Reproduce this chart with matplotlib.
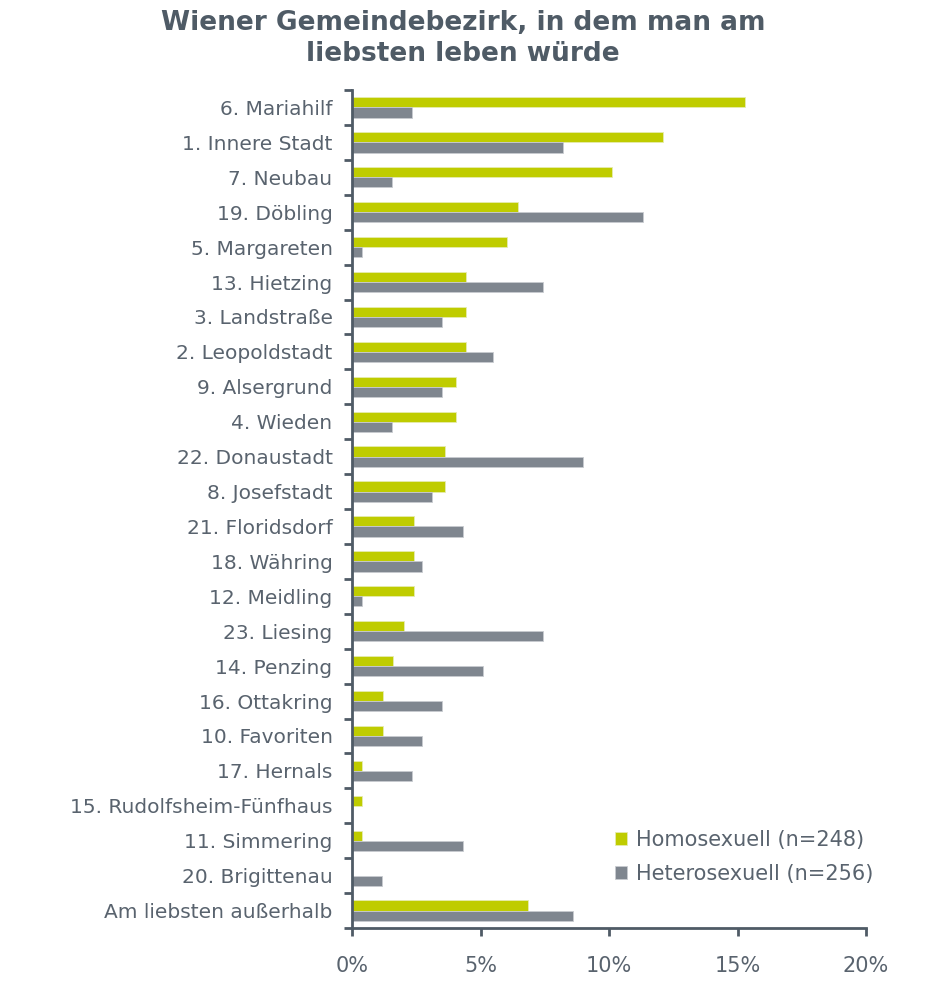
import numpy as np
import matplotlib
matplotlib.use("Agg")
import matplotlib.pyplot as plt
from matplotlib.ticker import PercentFormatter

districts = [
    "6. Mariahilf", "1. Innere Stadt", "7. Neubau", "19. Döbling", "5. Margareten",
    "13. Hietzing", "3. Landstraße", "2. Leopoldstadt", "9. Alsergrund", "4. Wieden",
    "22. Donaustadt", "8. Josefstadt", "21. Floridsdorf", "18. Währing", "12. Meidling",
    "23. Liesing", "14. Penzing", "16. Ottakring", "10. Favoriten", "17. Hernals",
    "15. Rudolfsheim-Fünfhaus", "11. Simmering", "20. Brigittenau", "Am liebsten außerhalb",
]
homo = [15.3, 12.1, 10.1, 6.45, 6.05, 4.44, 4.44, 4.44, 4.03, 4.03,
        3.63, 3.63, 2.42, 2.42, 2.42, 2.02, 1.61, 1.21, 1.21, 0.40,
        0.40, 0.40, 0.0, 6.85]
hetero = [2.34, 8.2, 1.56, 11.33, 0.39, 7.42, 3.52, 5.47, 3.52, 1.56,
          8.98, 3.13, 4.30, 2.73, 0.39, 7.42, 5.08, 3.52, 2.73, 2.34,
          0.0, 4.30, 1.17, 8.59]

GREEN = "#bfcc00"
GRAY = "#7f868f"
DARK = "#4f5b66"
TXT = "#59636e"

fig = plt.figure(figsize=(9.26, 9.81), dpi=100)
ax = fig.add_axes([352/926, 1 - 928/981, (866-352)/926, (928-90)/981])

y = np.arange(len(districts))
h = 0.29
ax.barh(y - h/2, homo, h, color=GREEN, edgecolor="#e6ebb0", linewidth=0.6,
        label="Homosexuell (n=248)")
ax.barh(y + h/2, hetero, h, color=GRAY, edgecolor="#c8cbd0", linewidth=0.6,
        label="Heterosexuell (n=256)")

ax.set_ylim(len(districts) - 0.5, -0.5)
ax.set_xlim(0, 20)
ax.set_yticks(y)
ax.set_yticklabels(districts, fontsize=14.5, color=TXT)
ax.set_yticks(np.arange(-0.5, len(districts)), minor=True)
ax.tick_params(axis="y", which="major", length=0, pad=14)
ax.tick_params(axis="y", which="minor", length=6, width=2, color=DARK)
ax.set_xticks([0, 5, 10, 15, 20])
ax.xaxis.set_major_formatter(PercentFormatter(decimals=0))
ax.tick_params(axis="x", length=6, width=2, color=DARK, labelsize=15,
               labelcolor=TXT, pad=14)

for s in ["top", "right"]:
    ax.spines[s].set_visible(False)
for s in ["left", "bottom"]:
    ax.spines[s].set_color(DARK)
    ax.spines[s].set_linewidth(2)

leg = ax.legend(loc="lower right", bbox_to_anchor=(1.05, 0.03), frameon=False,
                fontsize=15, handlelength=0.6, handleheight=0.6, handletextpad=0.4,
                labelspacing=0.7)
for t in leg.get_texts():
    t.set_color(TXT)

fig.text(0.5, 0.99, "Wiener Gemeindebezirk, in dem man am\nliebsten leben würde",
         ha="center", va="top", fontsize=19, fontweight="bold", color=DARK,
         linespacing=1.25)

fig.savefig("out.png", dpi=100)
